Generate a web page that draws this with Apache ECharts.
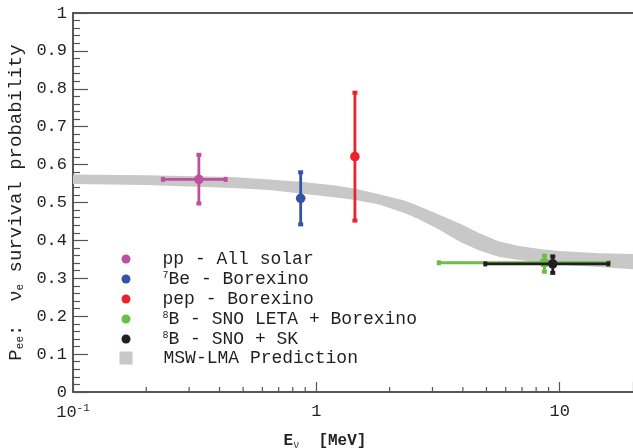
<!DOCTYPE html>
<html><head><meta charset="utf-8">
<script src="https://cdn.jsdelivr.net/npm/echarts@6/dist/echarts.min.js"></script>
<style>html,body{margin:0;padding:0;background:#fff}#c{width:633px;height:448px}</style>
</head><body><div id="c"></div>
<script>
// ---- data ----
const seriesNames = ['pp - All solar', '7Be - Borexino', 'pep - Borexino', '8B - SNO LETA + Borexino', '8B - SNO + SK'];
const legendLabels = ['{t|pp - All solar}', '{sup|7}{t2|Be - Borexino}', '{t|pep - Borexino}', '{sup|8}{t2|B - SNO LETA + Borexino}', '{sup|8}{t2|B - SNO + SK}'];
const seriesColors = ['#c0509f', '#3553a4', '#ed2229', '#6abd45', '#231f20'];
const energy   = [0.329, 0.862, 1.44, 8.65, 9.36];
const energyLo = [0.233, 0.862, 1.44, 3.17, 4.92];
const energyHi = [0.426, 0.862, 1.44, 16.0, 15.9];
const pee      = [0.561, 0.511, 0.621, 0.341, 0.338];
const peeLo    = [0.496, 0.441, 0.451, 0.316, 0.313];
const peeHi    = [0.627, 0.581, 0.791, 0.361, 0.359];

const bandName = 'MSW-LMA Prediction';
const bandE    = [0.1,   0.2,   0.45,  0.64,  0.86,  1.2,   1.43,  1.81,  2.3,   2.6,   3.2,   3.9,   4.7,   5.6,   6.8,   8.3,   10,    14.5,  20];
const bandLow  = [0.549, 0.546, 0.538, 0.533, 0.524, 0.513, 0.507, 0.495, 0.472, 0.458, 0.428, 0.396, 0.373, 0.357, 0.348, 0.341, 0.336, 0.330, 0.324];
const bandHigh = [0.574, 0.572, 0.567, 0.561, 0.555, 0.545, 0.537, 0.522, 0.505, 0.492, 0.468, 0.444, 0.418, 0.398, 0.385, 0.377, 0.372, 0.366, 0.364];

const xMinorTicks = [0.2,0.3,0.4,0.5,0.6,0.7,0.8,0.9, 2,3,4,5,6,7,8,9];
const xMajorLabels = {'-1': '{b|10}{sup|-1}', '0': '1', '1': '10'};
const yTickLabels = ['0','0.1','0.2','0.3','0.4','0.5','0.6','0.7','0.8','0.9','1'];

// ---- chart ----
const FONT = '"Liberation Mono", monospace';
const INK = '#231f20';
const chart = echarts.init(document.getElementById('c'), null, {renderer: 'canvas'});

function errRender(params, api) {
  const x = api.value(0), y = api.value(1), xl = api.value(2), xh = api.value(3), yl = api.value(4), yh = api.value(5);
  const c = api.visual('color');
  const ch = [];
  if (xl !== xh) {
    const a = api.coord([xl, y]), b = api.coord([xh, y]);
    ch.push({type: 'line', shape: {x1: a[0], y1: a[1], x2: b[0], y2: b[1]}, style: {stroke: c, lineWidth: 2.8}});
    ch.push({type: 'rect', shape: {x: a[0] - 1.5, y: a[1] - 2.5, width: 4, height: 5}, style: {fill: c}});
    ch.push({type: 'rect', shape: {x: b[0] - 2.5, y: b[1] - 2.5, width: 4, height: 5}, style: {fill: c}});
  }
  if (yl !== yh) {
    const a = api.coord([x, yl]), b = api.coord([x, yh]);
    ch.push({type: 'line', shape: {x1: a[0], y1: a[1], x2: b[0], y2: b[1]}, style: {stroke: c, lineWidth: 2.8}});
    ch.push({type: 'rect', shape: {x: a[0] - 2.5, y: a[1] - 2.5, width: 5, height: 4}, style: {fill: c}});
    ch.push({type: 'rect', shape: {x: b[0] - 2.5, y: b[1] - 1.5, width: 5, height: 4}, style: {fill: c}});
  }
  const p = api.coord([x, y]);
  ch.push({type: 'circle', shape: {cx: p[0], cy: p[1], r: 4.8}, style: {fill: c}});
  return {type: 'group', children: ch};
}

const series = [];
series.push({
  name: bandName, type: 'custom', z: 1, silent: true,
  itemStyle: {color: '#c8c8c8'},
  data: [[bandE[0], bandLow[0]]],
  renderItem: function (params, api) {
    const pts = [];
    for (let i = 0; i < bandE.length; i++) pts.push(api.coord([bandE[i], bandHigh[i]]));
    for (let i = bandE.length - 1; i >= 0; i--) pts.push(api.coord([bandE[i], bandLow[i]]));
    return {type: 'polygon', shape: {points: pts}, style: {fill: '#c8c8c8'}};
  }
});
series.push({
  name: 'xminor', type: 'custom', z: 5, silent: true,
  data: xMinorTicks.map(v => [v, 0]),
  renderItem: function (params, api) {
    const p = api.coord([api.value(0), 0]);
    return {type: 'line', shape: {x1: p[0], y1: p[1], x2: p[0], y2: p[1] - 5}, style: {stroke: '#555', lineWidth: 1.2}};
  }
});
for (let i = 0; i < seriesNames.length; i++) {
  series.push({
    name: seriesNames[i], type: 'custom', z: 3 + i, silent: true,
    itemStyle: {color: seriesColors[i]},
    encode: {x: 0, y: 1},
    data: [[energy[i], pee[i], energyLo[i], energyHi[i], peeLo[i], peeHi[i]]],
    renderItem: errRender
  });
}

const richBase = {
  t: {fontFamily: FONT, fontSize: 18, color: INK, lineHeight: 18, padding: [0, 0, 0, 27]},
  sup: {fontFamily: FONT, fontSize: 10, color: INK, verticalAlign: 'top', lineHeight: 18, padding: [0, 0, 6, 27]},
  t2: {fontFamily: FONT, fontSize: 18, color: INK, lineHeight: 18}
};

chart.setOption({
  animation: false,
  grid: {left: 73, right: 0, top: 13, bottom: 56, containLabel: false, outerBoundsMode: 'none'},
  legend: [{
    left: 121.5, top: 250, orient: 'vertical', padding: 0,
    itemWidth: 9, itemHeight: 9, itemGap: 2, icon: 'circle',
    selectedMode: false,
    data: seriesNames,
    formatter: name => legendLabels[seriesNames.indexOf(name)],
    textStyle: {fontFamily: FONT, fontSize: 18, color: INK, rich: richBase}
  }, {
    left: 119.5, top: 349, orient: 'vertical', padding: 0,
    itemWidth: 13, itemHeight: 13, icon: 'rect',
    selectedMode: false,
    data: [bandName],
    formatter: name => '{t|' + name + '}',
    textStyle: {fontFamily: FONT, fontSize: 18, color: INK, rich: {
      t: {fontFamily: FONT, fontSize: 18, color: INK, lineHeight: 18, padding: [0, 0, 0, 26]}
    }}
  }],
  xAxis: [{
    type: 'log', logBase: 10, min: 0.1, max: 20,
    axisLine: {show: true, lineStyle: {color: INK, width: 1.5}},
    axisTick: {show: true, inside: true, length: 10, lineStyle: {color: '#555', width: 1.2}},
    splitLine: {show: false},
    axisLabel: {
      margin: 11, fontFamily: FONT, fontSize: 17, color: INK,
      showMinLabel: true, showMaxLabel: true,
      formatter: function (v) {
        const k = Math.round(Math.log10(v));
        if (Math.abs(Math.log10(v) - k) > 1e-6) return '';
        return xMajorLabels[String(k)] || '';
      },
      rich: {
        b: {fontFamily: FONT, fontSize: 17, color: INK, lineHeight: 18},
        sup: {fontFamily: FONT, fontSize: 11, color: INK, verticalAlign: 'top', lineHeight: 18, padding: [0, 0, 6, 0]}
      }
    },
    name: '{n|E}{s|ν}{n|  [MeV]}', nameLocation: 'middle', nameGap: 40,
    nameTextStyle: {
      padding: [0, 56, 0, 0],
      rich: {
        n: {fontFamily: FONT, fontSize: 16, fontWeight: 'bold', color: INK, lineHeight: 18},
        s: {fontFamily: FONT, fontSize: 10, color: INK, verticalAlign: 'bottom', lineHeight: 18, padding: [6, 0, 0, 0]}
      }
    }
  }, {
    type: 'log', logBase: 10, min: 0.1, max: 20, position: 'top',
    axisLine: {show: true, lineStyle: {color: INK, width: 1.5}},
    axisTick: {show: false}, axisLabel: {show: false}, splitLine: {show: false}
  }],
  yAxis: {
    type: 'value', min: 0, max: 1, interval: 0.1,
    axisLine: {show: true, lineStyle: {color: INK, width: 1.5}},
    axisTick: {show: true, inside: true, length: 15, lineStyle: {color: '#555', width: 1.2}},
    minorTick: {show: true, splitNumber: 5, length: 7, lineStyle: {color: '#555', width: 1.2}},
    splitLine: {show: false},
    axisLabel: {
      margin: 6, fontFamily: FONT, fontSize: 17, color: INK,
      formatter: v => yTickLabels[Math.round(v * 10)]
    },
    name: '{n|P}{s|ee}{n|:  ν}{s|e}{n| survival probability}',
    nameLocation: 'middle', nameRotate: 90, nameGap: 46,
    nameTextStyle: {
      rich: {
        n: {fontFamily: FONT, fontSize: 19, color: INK, lineHeight: 20},
        s: {fontFamily: FONT, fontSize: 11, color: INK, verticalAlign: 'bottom', lineHeight: 20, padding: [6, 0, 0, 0]}
      }
    }
  },
  series: series
});
</script>
</body></html>
